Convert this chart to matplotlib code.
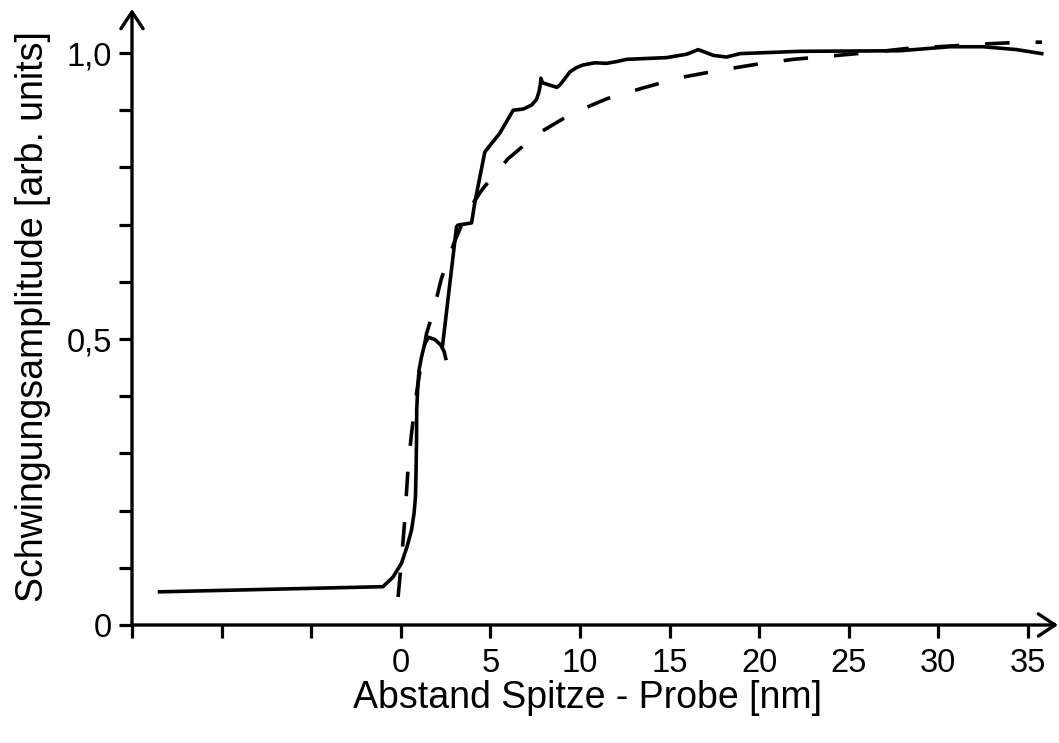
import numpy as np
import matplotlib
matplotlib.use('Agg')
import matplotlib.pyplot as plt
from matplotlib.ticker import MultipleLocator

plt.rcParams['font.family'] = ['Liberation Sans', 'DejaVu Sans']

# measured amplitude (solid), NaN marks a break in the trace
meas_x = [-13.46, -0.99, -0.43, 0.04, 0.35, 0.60, 0.74, 0.82, 0.85, 0.88, 0.89, 0.95, 1.02,
          1.16, 1.34, 1.56, 1.90, 2.22, 2.42, 2.51,
          np.nan,
          2.33, 3.11, 3.18, 3.95, 4.13, 4.69, 5.53, 6.27, 6.83, 7.30, 7.58, 7.72, 7.80, 7.82,
          7.91, 8.71, 8.88, 9.44, 9.77, 10.16, 10.83, 11.49, 12.04, 12.61, 14.84, 15.96,
          16.60, 17.44, 18.18, 18.93, 22.28, 27.86, 30.65, 32.50, 34.38, 35.77]
meas_y = [0.058, 0.067, 0.084, 0.108, 0.137, 0.166, 0.195, 0.224, 0.265, 0.323, 0.376, 0.417, 0.446,
          0.469, 0.492, 0.503, 0.499, 0.490, 0.478, 0.466,
          np.nan,
          0.488, 0.696, 0.699, 0.703, 0.738, 0.827, 0.860, 0.900, 0.902, 0.909, 0.919, 0.933, 0.947, 0.956,
          0.948, 0.940, 0.944, 0.967, 0.974, 0.979, 0.983, 0.982, 0.985, 0.989, 0.992, 0.998,
          1.006, 0.996, 0.993, 0.999, 1.003, 1.004, 1.011, 1.011, 1.006, 0.999]

# model curve (dashed)
fit_x = [-0.15, 0.04, 0.22, 0.41, 0.60, 0.88, 1.16, 1.44, 1.79, 2.27, 3.02, 3.67, 4.13,
         4.58, 5.98, 7.65, 9.54, 11.49, 13.52, 15.59, 17.64, 19.78, 21.90, 24.06,
         26.20, 28.25, 30.49, 32.63, 34.75, 35.79]
fit_y = [0.049, 0.113, 0.183, 0.276, 0.335, 0.405, 0.462, 0.510, 0.545, 0.606, 0.672, 0.719, 0.742,
         0.763, 0.815, 0.859, 0.894, 0.920, 0.939, 0.957, 0.969, 0.980, 0.989, 0.995,
         1.001, 1.008, 1.012, 1.016, 1.019, 1.019]

xtick_pos = [-15, -10, -5, 0, 5, 10, 15, 20, 25, 30, 35]
xtick_lab = ['', '', '', '0', '5', '10', '15', '20', '25', '30', '35']
ytick_pos = [0, 0.5, 1.0]
ytick_lab = ['0', '0,5', '1,0']

fig = plt.figure(figsize=(10.59, 7.43), dpi=100)
ax = fig.add_axes([132 / 1059, 118 / 743, 926 / 1059, 616 / 743])

ax.plot(meas_x, meas_y, color='black', lw=2.6)
ax.plot(fit_x, fit_y, color='black', lw=2.6, dashes=(6.8, 7.2))

ax.set_xlim(-15, 36.68)
ax.set_ylim(0, 1.077)

for s in ax.spines.values():
    s.set_visible(False)

arrow = dict(arrowstyle='->,head_length=0.6,head_width=0.4', lw=2.4, color='black',
             shrinkA=0, shrinkB=0, mutation_scale=20)
ax.annotate('', xy=(0, 1), xytext=(0, 0), xycoords='axes fraction', arrowprops=arrow,
            annotation_clip=False)
ax.annotate('', xy=(1, 0), xytext=(0, 0), xycoords='axes fraction', arrowprops=arrow,
            annotation_clip=False)

ax.set_xticks(xtick_pos, xtick_lab)
ax.set_yticks(ytick_pos, ytick_lab)
ax.yaxis.set_minor_locator(MultipleLocator(0.1))
ax.tick_params(axis='both', which='both', direction='out', length=9.5, width=2.3,
               labelsize=23.5, color='black')
ax.tick_params(axis='x', pad=7)
ax.tick_params(axis='y', pad=5)

ax.set_xlabel('Abstand Spitze - Probe [nm]', fontsize=27)
ax.set_ylabel('Schwingungsamplitude [arb. units]', fontsize=27)
ax.xaxis.set_label_coords(0.492, -0.134)
ax.xaxis.label.set_va('baseline')
ax.yaxis.set_label_coords(-0.096, 0.501)
ax.yaxis.label.set_va('baseline')

fig.savefig('out.png', dpi=100)
